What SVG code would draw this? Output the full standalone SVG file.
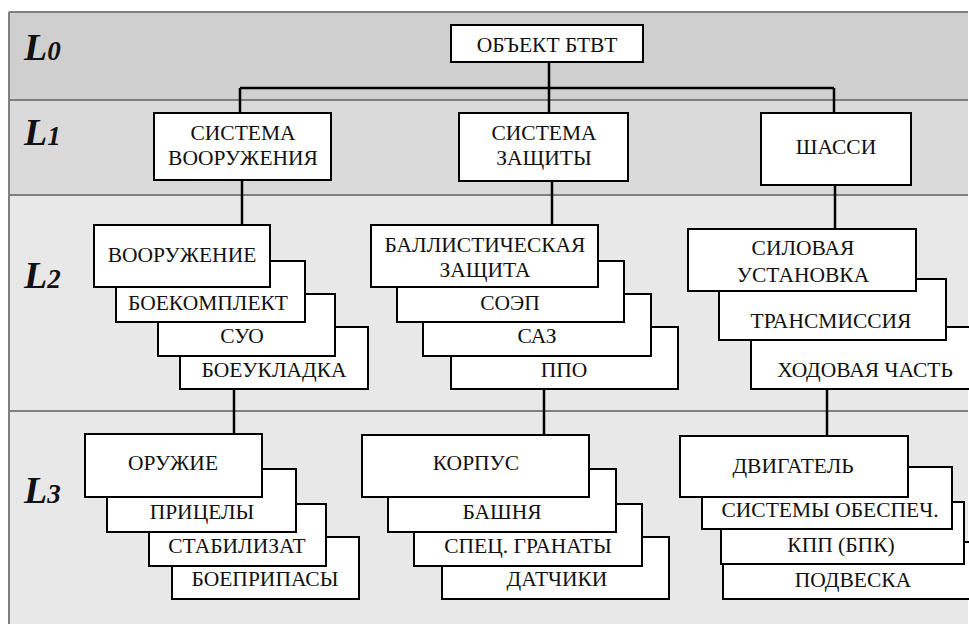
<svg xmlns="http://www.w3.org/2000/svg" width="969" height="624" viewBox="0 0 969 624" font-family="Liberation Serif, DejaVu Serif, serif">
<style>
.box{fill:#fff;stroke:#000;stroke-width:2}
.t{font-size:21.5px;fill:#111;text-anchor:middle}
.lv{font-weight:bold;font-style:italic;font-size:38px;fill:#111}
.lv tspan{font-size:27px}
.sep{stroke:#808080;stroke-width:2;fill:none}
.con{stroke:#000;stroke-width:2.5;fill:none}
</style>
<rect x="0" y="0" width="969" height="624" fill="#fff"/>
<g id="bands">
<rect x="9" y="12" width="959" height="88" fill="#cfcfcf"/>
<rect x="9" y="100" width="959" height="95" fill="#dadada"/>
<rect x="9" y="195" width="959" height="216" fill="#e8e8e8"/>
<rect x="9" y="411" width="959" height="213" fill="#e8e8e8"/>
<path class="sep" d="M9,12H968M9,100H968M9,195H968M9,411H968M9,12V624"/>
<text class="lv" x="24" y="60">L<tspan>0</tspan></text>
<text class="lv" x="24" y="145">L<tspan>1</tspan></text>
<text class="lv" x="24" y="288">L<tspan>2</tspan></text>
<text class="lv" x="24" y="503">L<tspan>3</tspan></text>
</g>
<g id="connectors">
<path class="con" d="M549,62V113M240,88H834M240,88V113M834,88V113M242,180V225M552,181V225M835,185V229M234,389V434M544,389V435M827,389V436"/>
</g>
<g id="n-obj"><rect class="box" x="451" y="25" width="192" height="37"/><text class="t" x="547" y="52">ОБЪЕКТ БТВТ</text></g>
<g id="n-sv"><rect class="box" x="154" y="113" width="177" height="67"/><text class="t" x="243" y="140">СИСТЕМА</text><text class="t" x="243" y="165">ВООРУЖЕНИЯ</text></g>
<g id="n-sz"><rect class="box" x="459" y="113" width="169" height="68"/><text class="t" x="544" y="140">СИСТЕМА</text><text class="t" x="544" y="165">ЗАЩИТЫ</text></g>
<g id="n-shassi"><rect class="box" x="761" y="113" width="150" height="72"/><text class="t" x="836" y="154">ШАССИ</text></g>

<g id="n-boeukladka"><rect class="box" x="180" y="327" width="188" height="62"/><text class="t" x="274" y="377">БОЕУКЛАДКА</text></g>
<g id="n-suo"><rect class="box" x="158" y="294" width="177" height="62"/><text class="t" x="242" y="343">СУО</text></g>
<g id="n-boekomplekt"><rect class="box" x="116" y="261" width="189" height="61"/><text class="t" x="208" y="310">БОЕКОМПЛЕКТ</text></g>
<g id="n-vooruzhenie"><rect class="box" x="94" y="225" width="176" height="62"/><text class="t" x="182" y="262">ВООРУЖЕНИЕ</text></g>

<g id="n-ppo"><rect class="box" x="451" y="327" width="227" height="62"/><text class="t" x="564" y="377">ППО</text></g>
<g id="n-saz"><rect class="box" x="423" y="294" width="228" height="62"/><text class="t" x="537" y="343">САЗ</text></g>
<g id="n-soep"><rect class="box" x="397" y="261" width="227" height="61"/><text class="t" x="510" y="310">СОЭП</text></g>
<g id="n-ballist"><rect class="box" x="371" y="225" width="227" height="62"/><text class="t" x="485" y="252">БАЛЛИСТИЧЕСКАЯ</text><text class="t" x="485" y="277">ЗАЩИТА</text></g>

<g id="n-hodovaya"><rect class="box" x="751" y="327" width="240" height="62"/><text class="t" x="865" y="377">ХОДОВАЯ ЧАСТЬ</text></g>
<g id="n-transmissiya"><rect class="box" x="719" y="279" width="227" height="61"/><text class="t" x="831" y="328">ТРАНСМИССИЯ</text></g>
<g id="n-silovaya"><rect class="box" x="688" y="229" width="228" height="62"/><text class="t" x="803" y="255">СИЛОВАЯ</text><text class="t" x="803" y="282">УСТАНОВКА</text></g>

<g id="n-boepripasy"><rect class="box" x="172" y="537" width="187" height="62"/><text class="t" x="265" y="586">БОЕПРИПАСЫ</text></g>
<g id="n-stabilizat"><rect class="box" x="149" y="504" width="177" height="62"/><text class="t" x="237" y="553">СТАБИЛИЗАТ</text></g>
<g id="n-pricely"><rect class="box" x="107" y="469" width="189" height="63"/><text class="t" x="202" y="519">ПРИЦЕЛЫ</text></g>
<g id="n-oruzhie"><rect class="box" x="85" y="434" width="177" height="63"/><text class="t" x="173" y="470">ОРУЖИЕ</text></g>

<g id="n-datchiki"><rect class="box" x="442" y="537" width="227" height="62"/><text class="t" x="557" y="586">ДАТЧИКИ</text></g>
<g id="n-granaty"><rect class="box" x="414" y="504" width="228" height="62"/><text class="t" x="528" y="553">СПЕЦ. ГРАНАТЫ</text></g>
<g id="n-bashnya"><rect class="box" x="388" y="469" width="228" height="63"/><text class="t" x="502" y="519">БАШНЯ</text></g>
<g id="n-korpus"><rect class="box" x="362" y="435" width="227" height="62"/><text class="t" x="476" y="470">КОРПУС</text></g>

<g id="n-podveska"><rect class="box" x="723" y="542" width="268" height="57"/><text class="t" x="853" y="587">ПОДВЕСКА</text></g>
<g id="n-kpp"><rect class="box" x="721" y="502" width="243" height="62"/><text class="t" x="841" y="552">КПП (БПК)</text></g>
<g id="n-sistemy"><rect class="box" x="702" y="467" width="250" height="62"/><text class="t" x="830" y="517">СИСТЕМЫ ОБЕСПЕЧ.</text></g>
<g id="n-dvigatel"><rect class="box" x="680" y="436" width="228" height="61"/><text class="t" x="793" y="473">ДВИГАТЕЛЬ</text></g>
</svg>
